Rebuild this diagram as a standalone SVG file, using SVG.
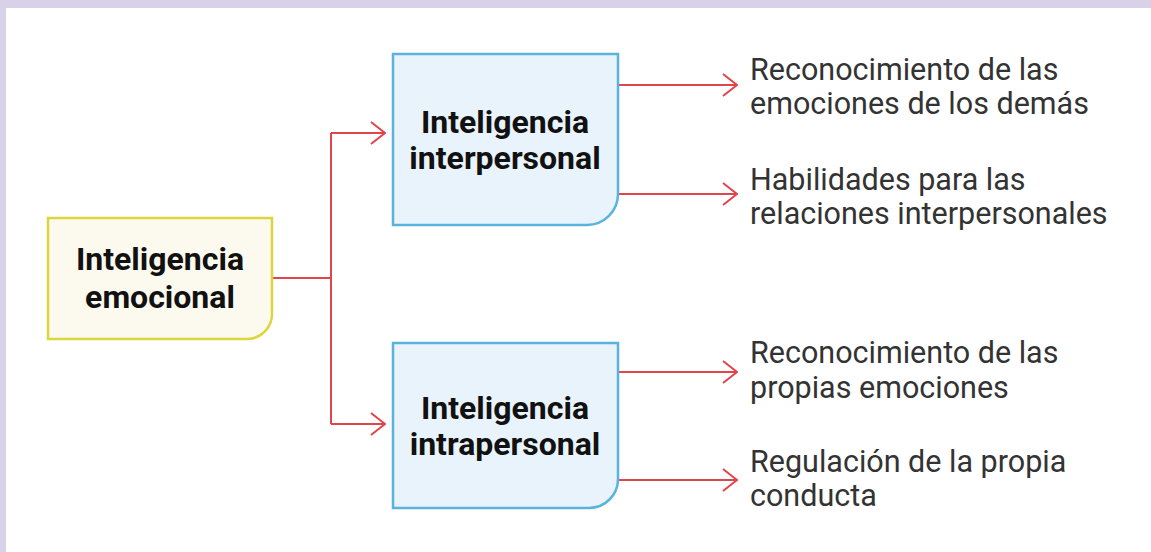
<svg xmlns="http://www.w3.org/2000/svg" width="1151" height="552" viewBox="0 0 1151 552">
<style>
.frame{fill:#d8d1e8}
.yel{fill:#fcf9ee;stroke:#dcd63c;stroke-width:2.5}
.blu{fill:#e9f3fb;stroke:#5ab3dd;stroke-width:2.5}
.nt{font-family:Roboto,"Liberation Sans",sans-serif;font-weight:700;font-size:32px;fill:#111;text-anchor:middle}
.lt{font-family:Roboto,"Liberation Sans",sans-serif;font-weight:400;font-size:30.5px;fill:#333}
.con{fill:none;stroke:#e0454b;stroke-width:2}
</style>
<defs>
<marker id="arr" markerWidth="16" markerHeight="26" refX="15" refY="13" orient="auto" markerUnits="userSpaceOnUse">
<path d="M1,2 L15,13 L1,24" fill="none" stroke="#e0454b" stroke-width="2"/>
</marker>
</defs>
<rect width="1151" height="552" fill="#ffffff"/>
<rect class="frame" x="0" y="0" width="1151" height="8"/>
<rect class="frame" x="0" y="0" width="6" height="552"/>
<g id="connectors">
<path class="con" d="M272,278 H331"/>
<path class="con" d="M331,133 V424"/>
<path class="con" d="M331,133 H385" marker-end="url(#arr)"/>
<path class="con" d="M331,424 H385" marker-end="url(#arr)"/>
<path class="con" d="M618,85 H737" marker-end="url(#arr)"/>
<path class="con" d="M618,194 H737" marker-end="url(#arr)"/>
<path class="con" d="M618,372 H737" marker-end="url(#arr)"/>
<path class="con" d="M618,480 H737" marker-end="url(#arr)"/>
</g>
<g id="node-emocional">
<path class="yel" d="M48,218 H272 V314 A25,25 0 0 1 247,339 H48 Z"/>
<text class="nt" x="160" y="270">Inteligencia</text>
<text class="nt" x="160" y="308">emocional</text>
</g>
<g id="node-interpersonal">
<path class="blu" d="M393,54 H618 V194 A31,31 0 0 1 587,225 H393 Z"/>
<text class="nt" x="505" y="133">Inteligencia</text>
<text class="nt" x="505" y="169">interpersonal</text>
</g>
<g id="node-intrapersonal">
<path class="blu" d="M393,343 H618 V479 A29,29 0 0 1 589,508 H393 Z"/>
<text class="nt" x="505" y="419">Inteligencia</text>
<text class="nt" x="505" y="455">intrapersonal</text>
</g>
<g id="label-1">
<text class="lt" x="750" y="80">Reconocimiento de las</text>
<text class="lt" x="750" y="114">emociones de los demás</text>
</g>
<g id="label-2">
<text class="lt" x="750" y="190">Habilidades para las</text>
<text class="lt" x="750" y="224">relaciones interpersonales</text>
</g>
<g id="label-3">
<text class="lt" x="750" y="363">Reconocimiento de las</text>
<text class="lt" x="750" y="398">propias emociones</text>
</g>
<g id="label-4">
<text class="lt" x="750" y="472">Regulación de la propia</text>
<text class="lt" x="750" y="506">conducta</text>
</g>
</svg>
